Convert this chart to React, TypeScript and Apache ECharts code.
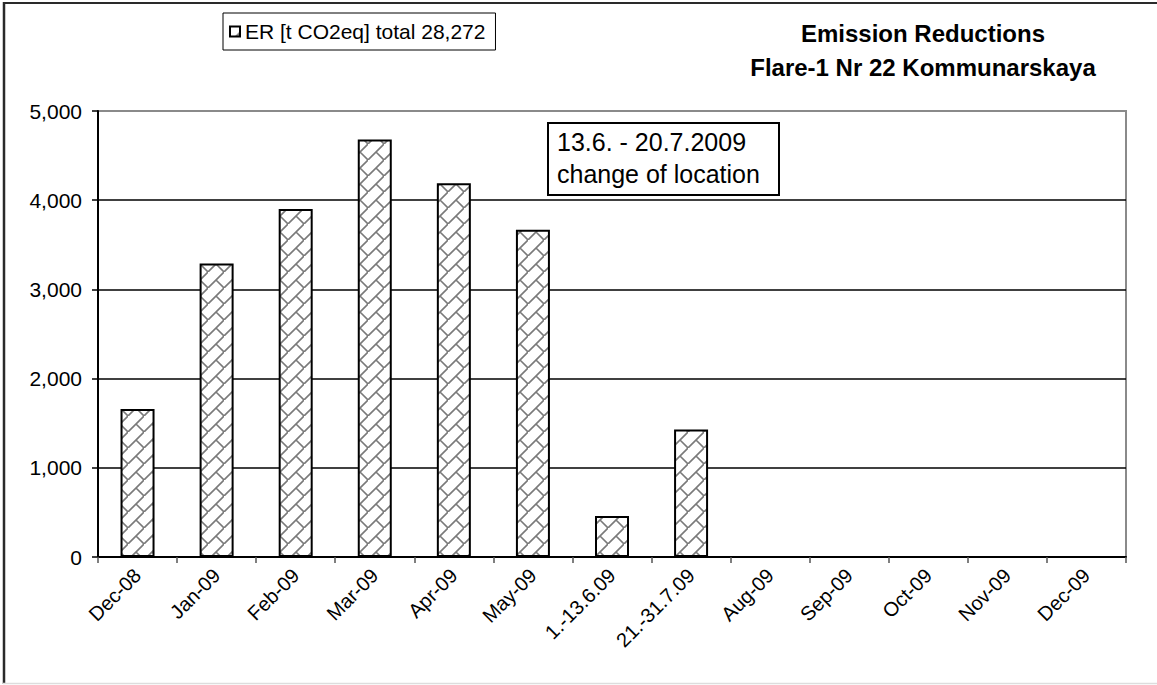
import React, { useEffect, useRef } from "react";
import * as echarts from "echarts";

const categories = [
  "Dec-08", "Jan-09", "Feb-09", "Mar-09", "Apr-09", "May-09",
  "1.-13.6.09", "21.-31.7.09", "Aug-09", "Sep-09", "Oct-09", "Nov-09", "Dec-09",
];
const erValues: (number | null)[] = [1660, 3290, 3900, 4680, 4190, 3670, 460, 1430, null, null, null, null, null];
const seriesName = "ER [t CO2eq] total 28,272";
const titleLines = ["Emission Reductions", "Flare-1 Nr 22 Kommunarskaya"];
const noteLines = ["13.6. - 20.7.2009", "change of location"];
const yTicks = { min: 0, max: 5000, interval: 1000 };

const FONT = "'Liberation Sans', Arial, Helvetica, sans-serif";

function makeBrickTile(): HTMLCanvasElement {
  const c = document.createElement("canvas");
  c.width = 16;
  c.height = 16;
  const ctx = c.getContext("2d")!;
  ctx.fillStyle = "#ffffff";
  ctx.fillRect(0, 0, 16, 16);
  ctx.strokeStyle = "#7a7a7a";
  ctx.lineWidth = 1.6;
  ctx.beginPath();
  ctx.moveTo(-2, 18);
  ctx.lineTo(18, -2);
  ctx.moveTo(8, 8);
  ctx.lineTo(16, 16);
  ctx.stroke();
  return c;
}

export default function App() {
  const ref = useRef<HTMLDivElement>(null);
  useEffect(() => {
    document.body.style.margin = "0";
    if (!ref.current) return;
    const chart = echarts.init(ref.current, null, { renderer: "svg" });
    const tile = makeBrickTile();
    const pattern: any = { image: tile, repeat: "repeat", imageWidth: 16, imageHeight: 16 };
    chart.setOption({
      animation: false,
      backgroundColor: "#ffffff",
      title: {
        text: titleLines.join("\n"),
        left: 918,
        top: 11,
        textAlign: "center",
        textStyle: {
          fontFamily: FONT,
          fontSize: 24,
          fontWeight: "bold",
          color: "#000",
          lineHeight: 34,
        },
      },
      legend: {
        left: 223,
        top: 13,
        orient: "horizontal",
        borderColor: "#000",
        borderWidth: 1,
        padding: [8, 10, 8, 6],
        itemWidth: 10,
        itemHeight: 10,
        itemGap: 5,
        icon: "rect",
        textStyle: { fontFamily: FONT, fontSize: 21, color: "#000", padding: [0, 0, 0, 0] },
        data: [seriesName],
      },
      grid: {
        left: 98,
        right: 31,
        top: 111,
        bottom: 128,
        show: true,
        borderColor: "#8a8a8a",
        borderWidth: 2,
        backgroundColor: "transparent",
      },
      xAxis: {
        type: "category",
        data: categories,
        boundaryGap: true,
        axisLine: { show: true, lineStyle: { color: "#000", width: 2 } },
        axisTick: { show: true, alignWithLabel: false, interval: 0, length: 6, lineStyle: { color: "#555", width: 1.5 } },
        axisLabel: {
          interval: 0,
          rotate: 45,
          margin: 15,
          fontFamily: FONT,
          fontSize: 20,
          color: "#000",
        },
        splitLine: { show: false },
      },
      yAxis: {
        type: "value",
        min: yTicks.min,
        max: yTicks.max,
        interval: yTicks.interval,
        axisLine: { show: true, lineStyle: { color: "#000", width: 2 } },
        axisTick: { show: true, length: 6, lineStyle: { color: "#000", width: 1.5 } },
        axisLabel: {
          margin: 16,
          fontFamily: FONT,
          fontSize: 21,
          color: "#000",
          formatter: (v: number) => v.toLocaleString("en-US"),
        },
        splitLine: {
          show: true,
          lineStyle: { color: ["#000", "#000", "#000", "#000", "#000", "#8a8a8a"], width: 1.5 },
        },
      },
      series: [
        {
          name: seriesName,
          type: "bar",
          data: erValues,
          barWidth: 34,
          itemStyle: { color: pattern, borderColor: "#000", borderWidth: 2 },
        },
      ],
      graphic: [
        {
          type: "line",
          shape: { x1: 4, y1: 2, x2: 4, y2: 684 },
          style: { stroke: "#2a2a2a", lineWidth: 2.5 },
          silent: true,
        },
        {
          type: "line",
          shape: { x1: 3, y1: 3, x2: 1157, y2: 3 },
          style: { stroke: "#2a2a2a", lineWidth: 2 },
          silent: true,
        },
        {
          type: "line",
          shape: { x1: 3, y1: 683.5, x2: 1157, y2: 683.5 },
          style: { stroke: "#dddddd", lineWidth: 1.5 },
          silent: true,
        },
        {
          type: "group",
          left: 547,
          top: 122,
          children: [
            {
              type: "rect",
              shape: { x: 0, y: 0, width: 231, height: 72 },
              style: { fill: "#fff", stroke: "#000", lineWidth: 2 },
            },
            {
              type: "text",
              x: 9,
              y: 3,
              style: {
                text: noteLines.join("\n"),
                fontFamily: FONT,
                fontSize: 25,
                lineHeight: 32,
                fill: "#000",
                align: "left",
                verticalAlign: "top",
              },
            },
          ],
        },
      ],
    });
    return () => chart.dispose();
  }, []);
  return <div ref={ref} style={{ width: 1157, height: 685 }} />;
}
